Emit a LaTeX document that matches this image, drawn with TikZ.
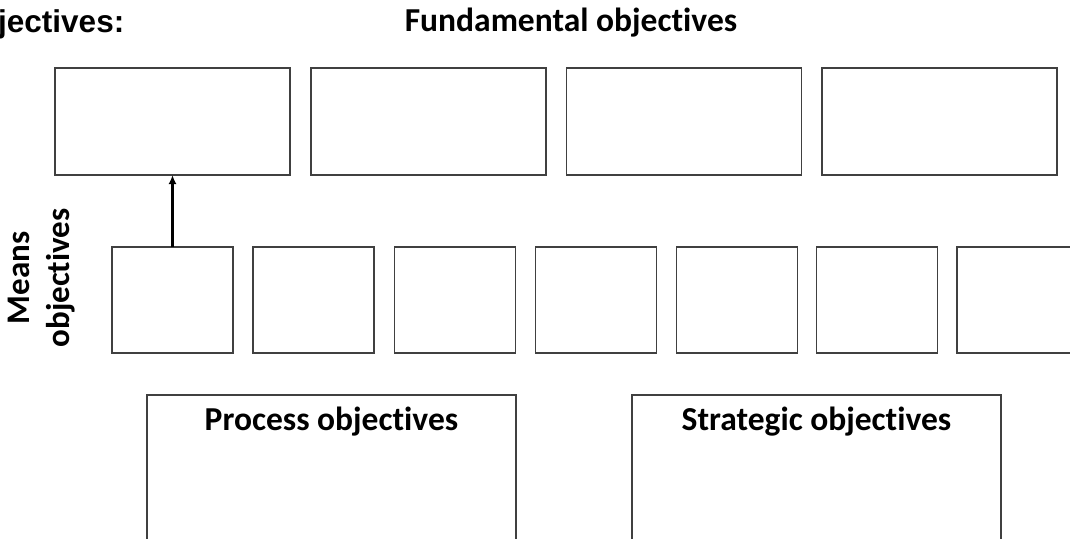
\documentclass[tikz,border=0pt]{standalone}
\usepackage{fontspec}
\setmainfont{Carlito}[Ligatures=NoCommon]
\newfontfamily\arialfont{Liberation Sans}
\usetikzlibrary{arrows.meta}
\tikzset{
  objbox/.style={draw=black!75, line width=1.2pt, fill=none, inner sep=0pt, outer sep=0pt},
  fundbox/.style={objbox, minimum width=235pt, minimum height=107pt},
  meansbox/.style={objbox, minimum width=121pt, minimum height=106pt},
  bigbox/.style={objbox, minimum width=369pt, minimum height=200pt},
  heading/.style={font=\fontsize{33.5}{38}\selectfont\bfseries, inner sep=0pt, anchor=base},
  uparrow/.style={line width=2.4pt, -{Latex[length=9pt,width=8pt]}}
}
\begin{document}
\begin{tikzpicture}[x=1pt,y=-1pt]
\useasboundingbox (0,0) rectangle (1070,538);
\clip (0,0) rectangle (1070,538);
% top-left cut text
\node[font=\arialfont\fontsize{31.5}{34}\selectfont\bfseries, inner sep=0pt, anchor=base west] (cut) at (-2,32) {jectives:};
\node[heading] (fundtitle) at (571,31) {Fundamental objectives};
% fundamental boxes
\node[fundbox] (f1) at (172.5,121.5) {};
\node[fundbox] (f2) at (428.5,121.5) {};
\node[fundbox] (f3) at (684,121.5) {};
\node[fundbox] (f4) at (939.5,121.5) {};
% means label
\node[font=\fontsize{33}{40}\selectfont\bfseries, rotate=90, align=center, inner sep=0pt] (meanslabel) at (42,278) {Means\\objectives};
% means boxes
\node[meansbox] (m1) at (172.5,300) {};
\node[meansbox] (m2) at (313.5,300) {};
\node[meansbox] (m3) at (455,300) {};
\node[meansbox] (m4) at (596,300) {};
\node[meansbox] (m5) at (737,300) {};
\node[meansbox] (m6) at (877,300) {};
\node[meansbox] (m7) at (1017.5,300) {};
\draw[uparrow] (m1.north) -- (f1.south);
% bottom boxes
\node[bigbox] (proc) at (331.5,495) {};
\node[bigbox] (strat) at (816.5,495) {};
\node[heading] (proctitle) at (331.5,430) {Process objectives};
\node[heading] (strattitle) at (816.5,430) {Strategic objectives};
\end{tikzpicture}
\end{document}
